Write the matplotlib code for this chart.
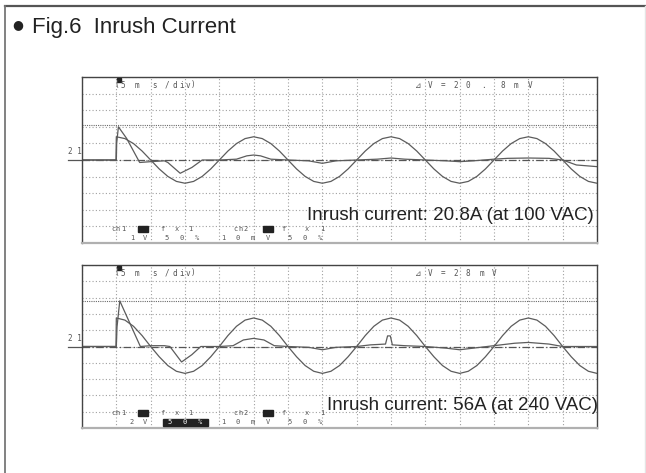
import numpy as np
import matplotlib
matplotlib.use("Agg")
import matplotlib.pyplot as plt
from matplotlib.patches import Rectangle
from matplotlib.lines import Line2D

# scope traces, time in ms (5 ms/div), amplitude in divisions
volt_t = np.arange(5.0, 75.01, 1.25)
volt_100 = [1.40, 1.29, 0.99, 0.54, 0.00, -0.54, -0.99, -1.29, -1.40, -1.29, -0.99, -0.54, 0.00, 0.54, 0.99, 1.29,
            1.40, 1.29, 0.99, 0.54, 0.00, -0.54, -0.99, -1.29, -1.40, -1.29, -0.99, -0.54, 0.00, 0.54, 0.99, 1.29,
            1.40, 1.29, 0.99, 0.54, 0.00, -0.54, -0.99, -1.29, -1.40, -1.29, -0.99, -0.54, 0.00, 0.54, 0.99, 1.29,
            1.40, 1.29, 0.99, 0.54, 0.00, -0.54, -0.99, -1.29, -1.40]
volt_240 = [1.75, 1.62, 1.24, 0.67, 0.00, -0.63, -1.17, -1.52, -1.65, -1.52, -1.17, -0.63, 0.00, 0.67, 1.24, 1.62,
            1.75, 1.62, 1.24, 0.67, 0.00, -0.63, -1.17, -1.52, -1.65, -1.52, -1.17, -0.63, 0.00, 0.67, 1.24, 1.62,
            1.75, 1.62, 1.24, 0.67, 0.00, -0.63, -1.17, -1.52, -1.65, -1.52, -1.17, -0.63, 0.00, 0.67, 1.24, 1.62,
            1.75, 1.62, 1.24, 0.67, 0.00, -0.63, -1.17, -1.52, -1.65]

cur_100_t = [0, 5.0, 5.05, 5.3, 6.5, 8.4, 10, 12, 12.5, 14.3, 16, 17.5, 20, 22.5, 24, 25, 26, 27.5, 30,
             33, 35, 37, 40, 43, 45, 47, 50, 53, 55, 57, 60, 62, 65, 68, 70, 72, 75]
cur_100 = [0, 0, 1.0, 2.0, 1.3, -0.15, -0.1, -0.05, -0.15, -0.8, -0.45, 0.0, 0.0, 0.05, 0.25, 0.3, 0.25, 0.05, 0.0,
           -0.05, -0.2, -0.05, 0.0, 0.05, 0.12, 0.05, 0.0, -0.05, -0.1, -0.05, 0.05, 0.1, 0.12, 0.1, 0.0, -0.3, -0.4]

cur_240_t = [0, 5.0, 5.1, 5.5, 7, 8.5, 10, 12, 12.8, 14.5, 16, 17.3, 20, 22, 23.5, 25, 26.5, 28, 30,
             33, 35, 37, 40, 42, 44.2, 44.5, 44.9, 45.2, 47, 50, 53, 55, 57, 60, 63, 65, 68, 70, 75]
cur_240 = [0, 0, 1.2, 2.8, 1.4, 0.0, 0.05, 0.05, 0.0, -0.95, -0.5, 0.0, 0.0, 0.05, 0.4, 0.5, 0.4, 0.05, 0.0,
           -0.05, -0.2, -0.05, 0.0, 0.1, 0.15, 0.65, 0.65, 0.1, 0.05, 0.0, -0.1, -0.2, -0.1, 0.05, 0.2, 0.25, 0.15, 0.0, 0.0]

cursor_dv = [2.08, 2.8]   # 20.8 mV / 28 mV at 10 mV/div
notes = ["Inrush current: 20.8A (at 100 VAC)", "Inrush current: 56A (at 240 VAC)"]
dv_text = ["⊿V=20.8mV", "⊿V=28mV"]
ch1_scale = ["1", "2"]

W, H = 646, 473
TRACE = "#5c5c5c"
SCOPE_FONT = ["DejaVu Sans Mono", "DejaVu Sans"]


def fx(x):
    return x / W


def fy(y):
    return 1 - y / H


fig = plt.figure(figsize=(W / 100, H / 100), dpi=100)
fig.patch.set_facecolor("white")

# outer frame (top and left only, faint right edge)
fig.add_artist(Line2D([fx(5), fx(645)], [fy(6), fy(6)], color="#555555", lw=1.6))
fig.add_artist(Line2D([fx(5), fx(5)], [fy(6), 0], color="#777777", lw=1.3))
fig.add_artist(Line2D([fx(645), fx(645)], [fy(6), 0], color="#e4e4e4", lw=1.0))

fig.text(fx(18), fy(25), "●", fontsize=9, family="DejaVu Sans", ha="center", va="center", color="#222222")
fig.text(fx(32), fy(33), "Fig.6  Inrush Current", fontsize=16, family="Liberation Sans",
         va="baseline", color="#222222")


def chars_at(xs, y, s, size=5.5, color="#555555"):
    for x, c in zip(xs, s):
        fig.text(fx(x), fy(y), c, ha="center", va="center", fontsize=size,
                 family=SCOPE_FONT, color=color)


panels = [
    dict(top=77, bottom=243, volt=volt_100, ct=cur_100_t, cur=cur_100, row1=229, row2=238,
         dvx=[418, 430, 443, 456, 468, 483, 503, 516, 530], base=220, right=594),
    dict(top=265, bottom=428, volt=volt_240, ct=cur_240_t, cur=cur_240, row1=413, row2=422,
         dvx=[418, 430, 443, 456, 468, 482, 494], base=410, right=598),
]

for i, p in enumerate(panels):
    top, bot = p["top"], p["bottom"]
    ax = fig.add_axes([fx(82), fy(bot), 515 / W, (bot - top) / H])
    ax.set_xlim(0, 75)
    ax.set_ylim(-5, 5)
    ax.set_xticks(np.arange(0, 76, 5))
    ax.set_yticks(np.arange(-5, 6, 1))
    ax.tick_params(length=0, labelbottom=False, labelleft=False)
    ax.grid(True, color="#a0a0a0", linestyle=(0, (1, 2)), linewidth=0.8)
    for side in ["left", "top", "right"]:
        ax.spines[side].set_color("#444444")
        ax.spines[side].set_linewidth(1.0)
    ax.spines["bottom"].set_color("#b0b0b0")
    ax.spines["bottom"].set_linewidth(1.6)

    # cursor line and zero reference
    ax.axhline(cursor_dv[i], color="#6a6a6a", linestyle=(0, (1, 1)), linewidth=0.8)
    ax.axhline(0, color="#555555", linestyle=(0, (6, 2, 1, 2)), linewidth=0.9)
    ax.plot([-2.0, 0], [0, 0], color="#555555", linewidth=0.9, clip_on=False)

    # traces
    ax.plot([0, 4.95] + list(volt_t), [0, 0] + p["volt"], color=TRACE, linewidth=0.9)
    ax.plot(p["ct"], p["cur"], color=TRACE, linewidth=0.9)

    # annotation
    fig.text(fx(p["right"]), fy(p["base"]), notes[i], fontsize=13.5, family="Liberation Sans",
             ha="right", va="baseline", color="#222222")

    # scope labels
    zero_y = top + (bot - top) / 2
    fig.text(fx(75), fy(zero_y - 8), "2 1", fontsize=5.5, family=SCOPE_FONT, color="#555555",
             ha="center", va="center")
    fig.add_artist(Rectangle((fx(117), fy(top + 5)), 4 / W, 4 / H, color="#222222"))
    chars_at([117, 123, 137, 155, 167, 175, 182, 188, 193], top + 8, "(5ms/div)")
    chars_at(p["dvx"], top + 8, dv_text[i])

    r1, r2 = p["row1"], p["row2"]
    chars_at([113, 118, 123], r1, "ch1", size=5)
    chars_at([236, 241, 246], r1, "ch2", size=5)
    fig.add_artist(Rectangle((fx(138), fy(r1 + 3)), 10 / W, 6 / H, color="#222222"))
    fig.add_artist(Rectangle((fx(263), fy(r1 + 3)), 10 / W, 6 / H, color="#222222"))
    chars_at([162, 177, 190], r1, "fx1", size=5)
    chars_at([283, 307, 322], r1, "fx1", size=5)
    chars_at([132, 145], r2, ch1_scale[i] + "V", size=5)
    if i == 1:
        fig.add_artist(Rectangle((fx(163), fy(r2 + 3.5)), 45 / W, 7 / H, color="#222222"))
        chars_at([170, 185, 200], r2, "50%", size=5, color="white")
    else:
        chars_at([167, 182, 197], r2, "50%", size=5)
    chars_at([223, 238, 253, 268], r2, "10mV", size=5)
    chars_at([290, 305, 320], r2, "50%", size=5)

fig.savefig("out.png", dpi=100, facecolor="white")
